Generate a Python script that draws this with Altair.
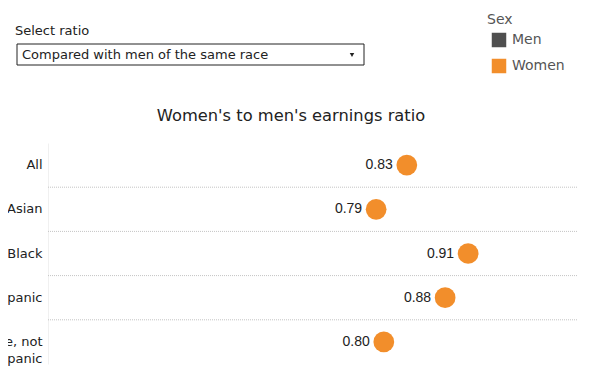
import altair as alt
import pandas as pd

# ---- data ----
groups = ["All", "Asian", "Black", "Hispanic", "White, not Hispanic"]
women_ratio = [0.83, 0.79, 0.91, 0.88, 0.80]
sex_domain = ["Men", "Women"]
sex_colors = ["#4f4f4f", "#f28e2b"]
ratio_choice = "Compared with men of the same race"
chart_title = "Women's to men's earnings ratio"

df = pd.DataFrame({"group": groups, "ratio": women_ratio, "sex": ["Women"] * len(groups)})
sep_df = pd.DataFrame({"group": groups[:-1]})

AXIS_FONT = "DejaVu Sans"
NUM_FONT = "Liberation Sans"

yscale = alt.Scale(domain=groups, paddingInner=0, paddingOuter=0)
xscale = alt.Scale(domain=[0.362, 1.052], nice=False, zero=False)

y_enc = alt.Y(
    "group:N",
    scale=yscale,
    sort=groups,
    axis=alt.Axis(
        title=None,
        ticks=False,
        grid=False,
        domain=True,
        domainColor="#f0f0f0",
        labelFont=AXIS_FONT,
        labelFontSize=13,
        labelColor="#222222",
        labelPadding=6,
        labelLineHeight=17,
        labelExpr="datum.label == 'White, not Hispanic' ? ['White, not', 'Hispanic'] : datum.label",
    ),
)

base = alt.Chart(df)

seps = alt.Chart(sep_df).mark_rule(color="#c4c4c4", strokeDash=[1, 1], strokeWidth=1).encode(
    y=alt.Y("group:N", scale=yscale, sort=groups, bandPosition=1)
)

dots = base.mark_circle(size=430, opacity=1).encode(
    x=alt.X("ratio:Q", scale=xscale, axis=None),
    y=y_enc,
    color=alt.Color(
        "sex:N",
        scale=alt.Scale(domain=sex_domain, range=sex_colors),
        legend=alt.Legend(
            title="Sex",
            orient="none",
            legendX=439,
            legendY=-130,
            symbolType="square",
            symbolSize=210,
            symbolOpacity=1,
            symbolOffset=4,
            titleFont=AXIS_FONT,
            titleFontSize=14,
            titleFontWeight="normal",
            titleColor="#555555",
            labelFont=AXIS_FONT,
            labelFontSize=14,
            labelColor="#555555",
            rowPadding=10,
            titlePadding=5,
            labelOffset=5,
        ),
    ),
)

labels = base.mark_text(align="right", baseline="middle", dx=-14, font=NUM_FONT, fontSize=14, color="#222222").encode(
    x=alt.X("ratio:Q", scale=xscale),
    y=alt.Y("group:N", scale=yscale, sort=groups),
    text=alt.Text("ratio:Q", format=".2f"),
)

# ---- static header: "Select ratio" control and chart title drawn as marks ----
ctrl_df = pd.DataFrame({"label": ["Select ratio"], "choice": [ratio_choice], "title": [chart_title]})
ctrl = alt.Chart(ctrl_df)
sel_title = ctrl.mark_text(align="left", baseline="middle", font=AXIS_FONT, fontSize=13, color="#222222").encode(
    x=alt.value(-33), y=alt.value(-112), text="label:N"
)
sel_box = ctrl.mark_rect(fill="white", stroke="#222222", strokeWidth=1).encode(
    x=alt.value(-31), x2=alt.value(316), y=alt.value(-99), y2=alt.value(-78)
)
sel_text = ctrl.mark_text(align="left", baseline="middle", font=AXIS_FONT, fontSize=13, color="#222222").encode(
    x=alt.value(-26), y=alt.value(-88.5), text="choice:N"
)
sel_arrow = ctrl.mark_point(shape="triangle-down", filled=True, color="#222222", size=20, opacity=1).encode(
    x=alt.value(304), y=alt.value(-88)
)
title_mark = ctrl.mark_text(align="center", baseline="middle", font=AXIS_FONT, fontSize=16.3, color="#222222").encode(
    x=alt.value(243), y=alt.value(-27), text="title:N"
)

chart = alt.layer(seps, dots, labels, sel_box, sel_title, sel_text, sel_arrow, title_mark).properties(
    width=529,
    height=221,
    autosize=alt.AutoSizeParams(type="none"),
    padding={"left": 40, "top": 135, "right": 15, "bottom": 5},
).configure_view(stroke=None)

chart.save("out.html", embed_options={"renderer": "svg", "actions": False})
